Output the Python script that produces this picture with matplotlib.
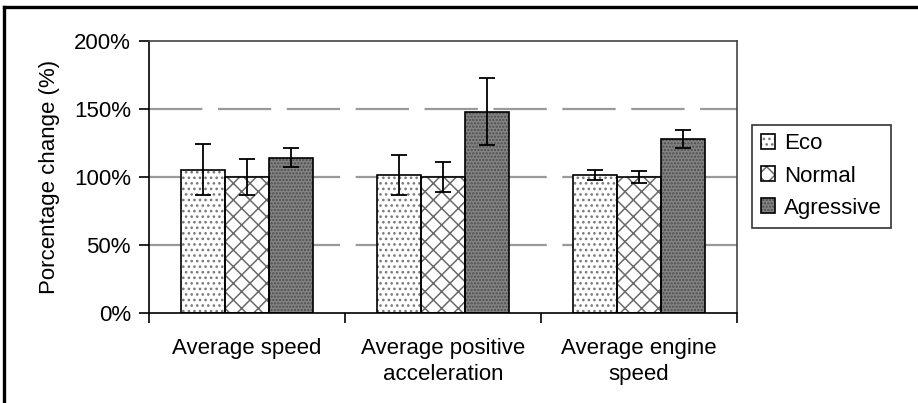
import numpy as np
import matplotlib

matplotlib.use('Agg')
import matplotlib.pyplot as plt
from matplotlib.lines import Line2D
from matplotlib.legend_handler import HandlerTuple


categories = ['Average speed', 'Average positive\nacceleration', 'Average engine\nspeed']
modes = ['Eco', 'Normal', 'Agressive']

eco_mean = [105.4, 101.5, 101.5]
eco_err = [18.5, 14.8, 4.0]
normal_mean = [100.0, 100.0, 100.0]
normal_err = [13.5, 11.0, 4.6]
agr_mean = [114.3, 148.1, 127.7]
agr_err = [7.0, 24.7, 6.5]

y_ticks = [0, 50, 100, 150, 200]
y_tick_labels = ['0%', '50%', '100%', '150%', '200%']


def main():
    plt.rcParams['font.family'] = ['Liberation Sans', 'DejaVu Sans']
    plt.rcParams['font.size'] = 16
    plt.rcParams['hatch.linewidth'] = 1.1

    fig = plt.figure(figsize=(9.18, 4.03), dpi=100)
    ax = fig.add_axes([0.1623, 0.2233, 0.6405, 0.675])

    x = np.arange(len(categories))
    w = 0.224
    series = [
        (eco_mean, eco_err, 'white', '#7a7a7a', '...'),
        (normal_mean, normal_err, 'white', '#6a6a6a', 'xx'),
        (agr_mean, agr_err, '#848484', '#4c4c4c', '.....'),
    ]

    handles = []
    for i, (mean, err, face, hcol, hatch) in enumerate(series):
        pos = x + (i - 1) * w
        # hatched fill first, black outline on top (hatch follows edgecolor)
        filled = ax.bar(pos, mean, w, color=face, edgecolor=hcol,
                        hatch=hatch, linewidth=0, zorder=2)
        outline = ax.bar(pos, mean, w, fill=False, edgecolor='black',
                         linewidth=1.2, zorder=3)
        ax.errorbar(pos, mean, yerr=err, fmt='none', ecolor='black',
                    elinewidth=1.3, capsize=6, capthick=1.3, zorder=4)
        handles.append((filled[0], outline[0]))

    ax.set_xlim(-0.5, 2.5)
    ax.set_ylim(0, 200)
    ax.set_yticks(y_ticks)
    ax.set_yticklabels(y_tick_labels)
    ax.set_ylabel('Porcentage change (%)', labelpad=10)

    # category names sit between the boundary ticks
    ax.set_xticks([-0.5, 0.5, 1.5, 2.5])
    ax.set_xticklabels([])
    ax.set_xticks(x, minor=True)
    ax.set_xticklabels(categories, minor=True, linespacing=1.3)
    ax.tick_params(axis='x', which='minor', length=0, pad=18)
    ax.tick_params(axis='x', which='major', direction='out', length=7, width=1.2)
    ax.tick_params(axis='y', direction='out', length=7, width=1.2, pad=6)

    for s in ax.spines.values():
        s.set_linewidth(1.2)
    ax.spines['top'].set_color('#444444')
    ax.spines['right'].set_color('#444444')

    for yv in [50, 100, 150]:
        ax.axhline(yv, color='#9a9a9a', linewidth=1.6,
                   dashes=(24, 7), zorder=1)

    leg = fig.legend(handles, modes, loc='center left',
                     bbox_to_anchor=(752 / 918, 1 - 176 / 403),
                     handler_map={tuple: HandlerTuple(ndivide=1, pad=0)},
                     frameon=True, fancybox=False, edgecolor='black',
                     handlelength=0.64, handleheight=0.64, handletextpad=0.4,
                     labelspacing=0.5, borderpad=0.4, borderaxespad=0)
    leg.get_frame().set_linewidth(1.2)

    # page border along the top and left edges
    fig.add_artist(Line2D([3.5 / 918, 1], [1 - 7 / 403, 1 - 7 / 403],
                          color='black', linewidth=2.4, transform=fig.transFigure))
    fig.add_artist(Line2D([3.5 / 918, 3.5 / 918], [0, 1 - 7 / 403],
                          color='black', linewidth=2.4, transform=fig.transFigure))

    fig.savefig('out.png', dpi=100)


if __name__ == "__main__":
    main()
